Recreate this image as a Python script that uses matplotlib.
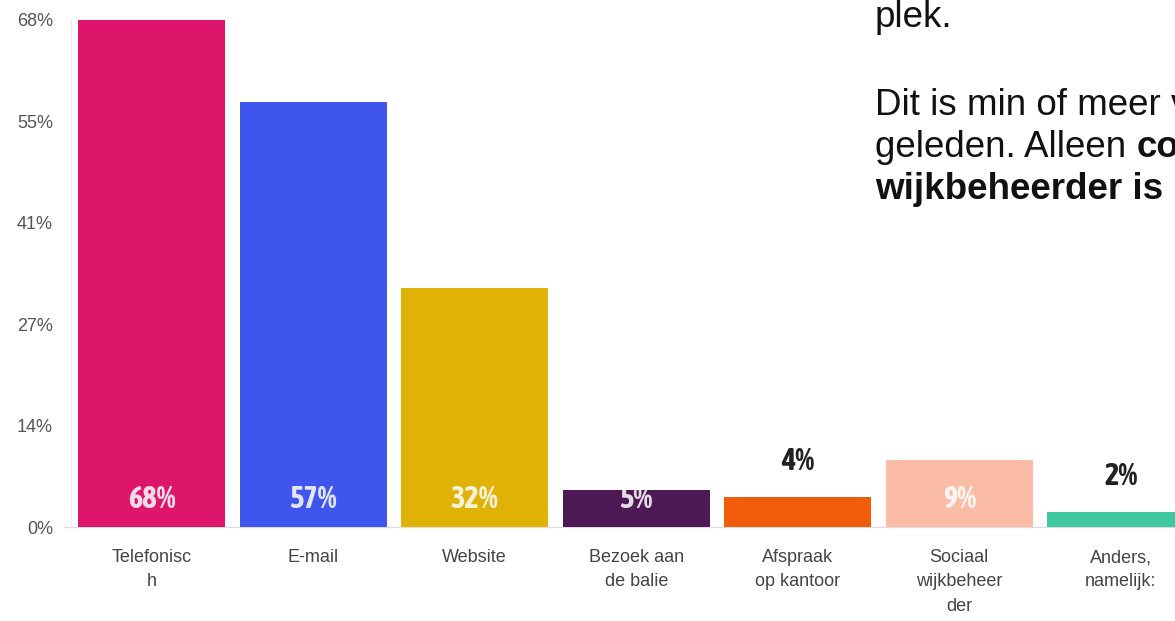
import numpy as np
import matplotlib
matplotlib.use('Agg')
import matplotlib.pyplot as plt
from matplotlib import font_manager

# contact channels and share of respondents (%)
categories = ['Telefonisc\nh', 'E-mail', 'Website', 'Bezoek aan\nde balie',
              'Afspraak\nop kantoor', 'Sociaal\nwijkbeheer\nder', 'Anders,\nnamelijk:']
values = [68, 57, 32, 5, 4, 9, 2]
colors = ['#DE166B', '#4054EE', '#E0B206', '#4C1955', '#F05C0A', '#FBBCA6', '#40C8A0']

ytick_labels = ['0%', '14%', '27%', '41%', '55%', '68%']
y_max = 68

# text block next to the chart
para_lines = ['plek.', 'Dit is min of meer v', 'geleden. Alleen ', 'wijkbeheerder is']
para_bold_tail = 'co'

# bold condensed face for the value labels, if one is installed (DejaVu last)
cands = []
for f in font_manager.fontManager.ttflist:
    narrowish = ('Narrow' in f.name or 'Condensed' in f.name
                 or f.stretch in ('condensed', 'semi-condensed', 'extra-condensed'))
    try:
        w = int(f.weight)
    except (TypeError, ValueError):
        w = 700 if 'bold' in str(f.weight) else 400
    if narrowish and w >= 600 and f.style == 'normal':
        cands.append(('DejaVu' in f.name, abs(w - 700), f.fname, f.name))
cands.sort()
if cands and not cands[0][0]:
    lab_font = font_manager.FontProperties(fname=cands[0][2], size=22)
elif cands:
    lab_font = font_manager.FontProperties(fname=cands[0][2], size=17)
else:
    lab_font = font_manager.FontProperties(family='Liberation Sans', weight='bold', size=17)

plt.rcParams['font.family'] = ['Liberation Sans', 'DejaVu Sans']

W, H = 1175, 621
fig = plt.figure(figsize=(W / 100, H / 100), dpi=100)
ax = fig.add_axes([71 / W, 94 / H, 1130.5 / W, 507 / H])

x = np.arange(len(values))
ax.bar(x, values, width=0.91, color=colors, zorder=2)

ax.set_xlim(-0.5, 6.5)
ax.set_ylim(0, y_max)
ax.set_yticks(np.linspace(0, y_max, len(ytick_labels)))
ax.set_yticklabels(ytick_labels)
ax.set_xticks(x)
ax.set_xticklabels(categories, linespacing=1.55)
ax.tick_params(axis='y', length=0, pad=13, labelsize=13, labelcolor='#555555')
ax.tick_params(axis='x', length=0, pad=16, labelsize=13, labelcolor='#444444')

for s in ['top', 'right', 'bottom']:
    ax.spines[s].set_visible(False)
ax.spines['left'].set_color('#ececec')
ax.spines['left'].set_linewidth(1)
ax.axhline(0, color='#dddddd', lw=1, zorder=1, xmin=-0.006, clip_on=False)

# value labels: inside the bar near its base, or above short bars
for i, v in enumerate(values):
    if v >= 5:
        ax.annotate(f'{v}%', xy=(i, 0), xytext=(0, 28), textcoords='offset pixels',
                    ha='center', va='center', fontproperties=lab_font,
                    color='white', alpha=0.85, zorder=3)
    else:
        ax.annotate(f'{v}%', xy=(i, v), xytext=(0, 20), textcoords='offset pixels',
                    ha='center', va='bottom', fontproperties=lab_font,
                    color='#222222', zorder=3)

# paragraph on the right
baselines = [27, 115, 157, 199]
para_x = 875 / W
for k, (line, yb) in enumerate(zip(para_lines, baselines)):
    t = fig.text(para_x, 1 - yb / H, line, fontsize=26.5, color='#111111', va='baseline',
                 ha='left', fontweight='bold' if k == 3 else 'normal')
    if k == 2:
        fig.canvas.draw()
        ext = t.get_window_extent(renderer=fig.canvas.get_renderer())
        fig.text(ext.x1 / W, 1 - yb / H, para_bold_tail, fontsize=26.5, color='#111111',
                 va='baseline', ha='left', fontweight='bold')

fig.savefig('out.png', dpi=100)
